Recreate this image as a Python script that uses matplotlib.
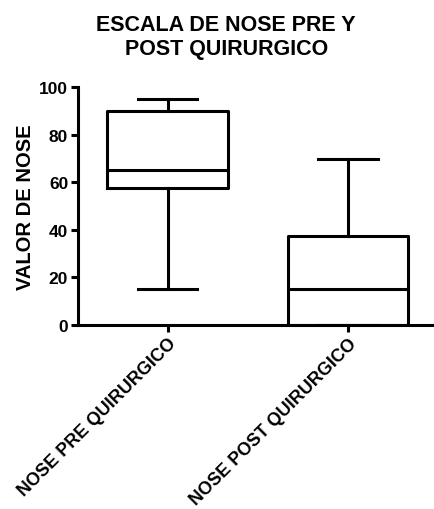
import matplotlib
matplotlib.use("Agg")
import matplotlib.pyplot as plt

plt.rcParams['font.family'] = ['Liberation Sans', 'DejaVu Sans']

# box statistics
groups = ["NOSE PRE QUIRURGICO", "NOSE POST QUIRURGICO"]
whisker_low = [15, 0]
q1 = [57.5, 0]
median = [65, 15]
q3 = [90, 37.5]
whisker_high = [95, 70]

stats = []
for i in range(len(groups)):
    stats.append({"label": groups[i], "whislo": whisker_low[i], "q1": q1[i],
                  "med": median[i], "q3": q3[i], "whishi": whisker_high[i],
                  "fliers": []})

fig = plt.figure(figsize=(4.35, 5.1), dpi=100)
ax = fig.add_axes([0.179, 0.361, 0.816, 0.466])

lw = 2.2
ax.bxp(stats, positions=[1, 2], widths=0.67, capwidths=0.33, showfliers=False,
       boxprops=dict(color="black", linewidth=lw),
       whiskerprops=dict(color="black", linewidth=lw),
       capprops=dict(color="black", linewidth=lw),
       medianprops=dict(color="black", linewidth=lw))

ax.set_xlim(0.503, 2.47)
ax.set_ylim(0, 100)
ax.set_yticks([0, 20, 40, 60, 80, 100])
ax.set_xticks([1, 2])
ax.set_xticklabels(groups, rotation=45, ha="right", rotation_mode="anchor",
                   fontsize=13, fontweight="bold")
for lab in ax.get_yticklabels():
    lab.set_fontweight("bold")
    lab.set_fontsize(12.5)

for s in ["top", "right"]:
    ax.spines[s].set_visible(False)
for s in ["left", "bottom"]:
    ax.spines[s].set_linewidth(lw)
ax.tick_params(width=lw, length=5, direction="out", pad=2)

ax.set_ylabel("VALOR DE NOSE", fontsize=14.5, fontweight="bold", labelpad=3)
fig.text(0.52, 0.927, "ESCALA DE NOSE PRE Y\nPOST QUIRURGICO", ha="center",
         va="center", fontsize=15.5, fontweight="bold", linespacing=1.2)

fig.savefig("out.png", dpi=100)
